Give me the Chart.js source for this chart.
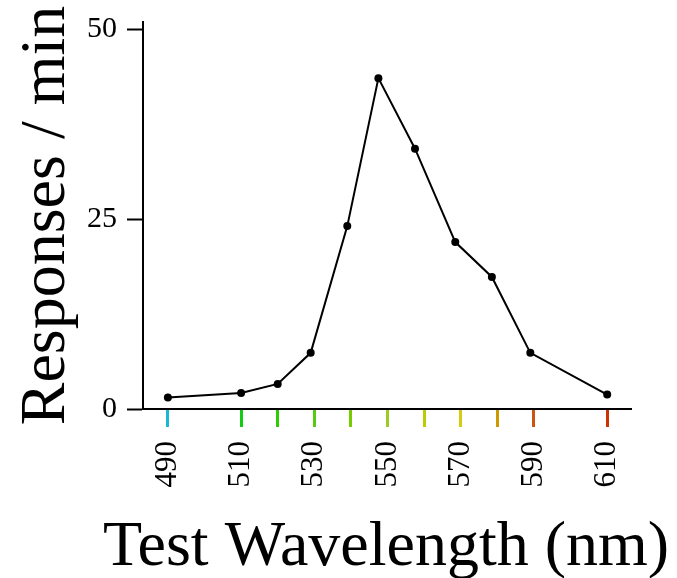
<!DOCTYPE html>
<html>
<head>
<meta charset="utf-8">
<script src="https://cdn.jsdelivr.net/npm/chart.js@4"></script>
<style>
html,body{margin:0;padding:0;background:#fff;}
#wrap{width:677px;height:578px;position:relative;}
#pre{position:absolute;left:-9999px;top:0;font-family:"Liberation Serif";font-size:20px;}
</style>
</head>
<body>
<span id="pre">Test 0123456789</span>
<div id="wrap"><canvas id="c" width="677" height="578"></canvas></div>
<script>
const wavelengths = [490, 510, 520, 529, 539, 547.5, 557.5, 568.5, 578.5, 589, 610];
const responses = [1.5, 2.1, 3.3, 7.4, 24.1, 43.6, 34.3, 22.0, 17.4, 7.4, 1.9];
const xTickValues = [490, 510, 520, 530, 540, 550, 560, 570, 580, 590, 610];
const xTickColors = ['#1ab8d4', '#12cc12', '#2ecc00', '#55cc11', '#77cc00', '#9ccc22', '#bbcc00', '#d4cc11', '#cc9900', '#cc5511', '#cc3300'];
const xLabelValues = [490, 510, 530, 550, 570, 590, 610];
const yTickValues = [0, 25, 50];
const xTitle = 'Test Wavelength (nm)';
const yTitle = 'Responses / min';

const FONT = "'Liberation Serif', serif";

// Axis titles drawn without Chart.js' maxWidth squeeze
const axisTitles = {
  id: 'axisTitles',
  afterDraw(chart) {
    const {ctx, chartArea} = chart;
    ctx.save();
    ctx.fillStyle = '#000';
    ctx.textAlign = 'center';
    ctx.textBaseline = 'alphabetic';
    ctx.font = "64px " + FONT;
    ctx.fillText(xTitle, (chartArea.left + chartArea.right) / 2 - 1, 565);
    ctx.translate(64, (chartArea.top + chartArea.bottom) / 2);
    ctx.rotate(-Math.PI / 2);
    ctx.font = "64px " + FONT;
    ctx.fillText(yTitle, 0, 0);
    ctx.restore();
  }
};

function draw() {
  new Chart(document.getElementById('c'), {
    type: 'line',
    data: {
      datasets: [{
        data: wavelengths.map((w, i) => ({x: w, y: responses[i]})),
        borderColor: '#000',
        backgroundColor: '#000',
        borderWidth: 2,
        pointRadius: 4,
        pointBackgroundColor: '#000',
        pointBorderWidth: 0,
        tension: 0,
        fill: false
      }]
    },
    plugins: [axisTitles],
    options: {
      responsive: false,
      animation: false,
      layout: {padding: {top: 22, right: 46, left: 0, bottom: 0}},
      plugins: {legend: {display: false}, tooltip: {enabled: false}},
      scales: {
        x: {
          type: 'linear',
          min: 483.2,
          max: 616.5,
          afterBuildTicks: s => { s.ticks = xTickValues.map(v => ({value: v})); },
          afterFit: s => { s.height = 169; s.paddingLeft = 0; s.paddingRight = 0; },
          border: {display: true, color: '#000', width: 2},
          grid: {
            drawOnChartArea: false,
            drawTicks: true,
            tickLength: 18,
            tickWidth: 3,
            tickColor: ctx => {
              const i = xTickValues.indexOf(ctx.tick ? ctx.tick.value : NaN);
              return i >= 0 ? xTickColors[i] : 'rgba(0,0,0,0)';
            }
          },
          ticks: {
            autoSkip: false,
            minRotation: 90,
            maxRotation: 90,
            padding: 14,
            color: '#000',
            font: {family: FONT, size: 31},
            callback: v => xLabelValues.includes(v) ? String(v) : ''
          },
          title: {display: false}
        },
        y: {
          type: 'linear',
          min: 0,
          max: 51,
          afterBuildTicks: s => { s.ticks = yTickValues.map(v => ({value: v})); },
          afterFit: s => { s.width = 143; s.paddingTop = 0; s.paddingBottom = 0; },
          border: {display: true, color: '#000', width: 2},
          grid: {
            drawOnChartArea: false,
            drawTicks: true,
            tickLength: 16,
            tickWidth: 2,
            tickColor: '#000'
          },
          ticks: {
            padding: 10,
            color: '#000',
            font: {family: FONT, size: 30}
          },
          title: {display: false}
        }
      }
    }
  });
}

if (document.fonts && document.fonts.load) {
  Promise.all([
    document.fonts.load("64px 'Liberation Serif'"),
    document.fonts.load("30px 'Liberation Serif'")
  ]).then(draw, draw);
} else {
  draw();
}
</script>
</body>
</html>
